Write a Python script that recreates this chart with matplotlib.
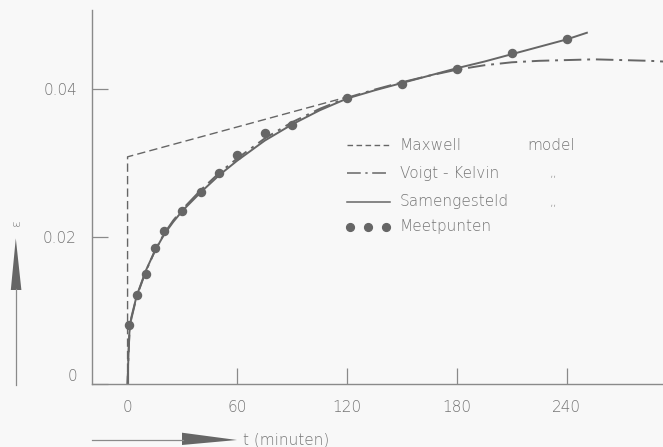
import matplotlib
matplotlib.use("Agg")
import matplotlib.pyplot as plt
from matplotlib.lines import Line2D
from matplotlib.patches import Polygon

# --- data -------------------------------------------------------------
# measured creep strain (Meetpunten)
t_meet = [1, 5, 10, 15, 20, 30, 40, 50, 60, 75, 90, 120, 150, 180, 210, 240]
eps_meet = [0.0080, 0.0121, 0.0149, 0.0185, 0.0208, 0.0235, 0.0261, 0.0286,
            0.0311, 0.0340, 0.0351, 0.0388, 0.0407, 0.0427, 0.0449, 0.0467]

# Maxwell model: instantaneous jump, then linear flow
t_maxwell = [0, 0, 120]
eps_maxwell = [0.0, 0.0308, 0.0389]

# Voigt-Kelvin model
t_kelvin = [0, 0.5, 1, 2, 5, 10, 15, 20, 25, 30, 40, 50, 60, 75, 90, 105,
            120, 135, 150, 165, 180, 195, 210, 225, 240, 255, 270, 285, 293]
eps_kelvin = [0.0, 0.0040, 0.0068, 0.0088, 0.0119, 0.0153, 0.0181, 0.0204,
              0.0222, 0.0237, 0.0263, 0.0286, 0.0306, 0.0333, 0.0355, 0.0373,
              0.0388, 0.0399, 0.0409, 0.0418, 0.0426, 0.0432, 0.0436, 0.0438,
              0.0439, 0.0440, 0.0439, 0.0438, 0.0437]

# combined model (Samengesteld)
t_comb = [0, 0.5, 1, 2, 5, 10, 15, 20, 25, 30, 40, 50, 60, 75, 90, 105,
          120, 135, 150, 165, 180, 195, 210, 225, 240, 251]
eps_comb = [0.0, 0.0040, 0.0070, 0.0090, 0.0120, 0.0154, 0.0181, 0.0203,
            0.0220, 0.0235, 0.0260, 0.0283, 0.0303, 0.0330, 0.0352, 0.0371,
            0.0387, 0.0398, 0.0408, 0.0418, 0.0428, 0.0437, 0.0447, 0.0457,
            0.0467, 0.0476]

x_ticks = [0, 60, 120, 180, 240]
x_ticklabels = ["0", "60", "120", "180", "240"]
y_ticks = [0, 0.02, 0.04]
y_ticklabels = ["0", "0.02", "0.04"]

legend_labels = ["Maxwell", "Voigt - Kelvin", "Samengesteld", "Meetpunten"]
legend_notes = ["model", ",,", ",,", ""]

# --- style ------------------------------------------------------------
BG = "#f8f8f8"
INK = "#666666"
AXC = "#8a8a8a"
TXT = "#757575"
FONT = ["DejaVu Sans"]

W, H = 663, 447
fig = plt.figure(figsize=(W / 100, H / 100), dpi=100, facecolor=BG)


def fx(px):
    return px / W


def fy(py):
    return 1 - py / H


left, bottom = 91.7, 384.3
ax = fig.add_axes([fx(left), fy(bottom), 1 - fx(left), fy(10) - fy(bottom)])
ax.set_facecolor(BG)
ax.set_xlim(-19.6, 292.6)
ax.set_ylim(0, 0.05068)

for side in ("top", "right"):
    ax.spines[side].set_visible(False)
for side in ("left", "bottom"):
    ax.spines[side].set_color(AXC)
    ax.spines[side].set_linewidth(1.0)

ax.set_xticks(x_ticks, x_ticklabels)
ax.set_yticks(y_ticks, y_ticklabels)
ax.tick_params(axis="both", direction="in", length=11.5, width=0.9,
               color=AXC, labelcolor=TXT, labelsize=11)
ax.tick_params(axis="x", pad=11.5)
ax.tick_params(axis="y", pad=10.6)
for lab in ax.get_xticklabels() + ax.get_yticklabels():
    lab.set_family(FONT)
    lab.set_fontweight("light")
ax.get_yticklabels()[0].set_verticalalignment("bottom")

# curves
ax.plot(t_maxwell, eps_maxwell, color=INK, lw=1.0, dashes=(6, 3),
        solid_capstyle="butt")
ax.plot(t_kelvin, eps_kelvin, color=INK, lw=1.4, dashes=(9, 3, 1.5, 3))
ax.plot(t_comb, eps_comb, color=INK, lw=1.4)
ax.plot(t_meet, eps_meet, "o", color=INK, ms=5.8, mec=INK)

# legend
rows_y = [145, 173.3, 201.7, 226.7]
x0, x1 = 346.7, 390
styles = [dict(dashes=(4, 2.5), lw=1.0),
          dict(dashes=(9, 3, 1.5, 3), lw=1.1),
          dict(lw=1.1)]
for ry, st in zip(rows_y[:3], styles):
    fig.add_artist(Line2D([fx(x0), fx(x1)], [fy(ry), fy(ry)], color=INK,
                          transform=fig.transFigure, **st))
fig.add_artist(Line2D([fx(350), fx(368), fx(386)], [fy(rows_y[3])] * 3,
                      ls="none", marker="o", ms=5.6, color=INK,
                      transform=fig.transFigure))
for ry, lab, note in zip(rows_y, legend_labels, legend_notes):
    fig.text(fx(400), fy(ry), lab, family=FONT, fontweight="light",
             fontsize=11, color=TXT, va="center", ha="left")
    if note:
        nx = 527 if note == "model" else 550
        fig.text(fx(nx), fy(ry), note, family=FONT, fontweight="light",
                 fontsize=11 if note == "model" else 9, color=TXT,
                 va="center", ha="left")

# axis arrows
fig.add_artist(Line2D([fx(92), fx(183)], [fy(440), fy(440)], color=AXC,
                      lw=0.9, transform=fig.transFigure))
fig.add_artist(Polygon([(fx(182), fy(432.7)), (fx(182), fy(445)),
                        (fx(237), fy(440))], closed=True, color=INK,
                       transform=fig.transFigure, lw=0))
fig.text(fx(243), fy(440), "t (minuten)", family=FONT, fontweight="light",
         fontsize=11, color=TXT, va="center", ha="left")

fig.add_artist(Line2D([fx(15.5), fx(15.5)], [fy(385), fy(289)], color=AXC,
                      lw=0.9, transform=fig.transFigure))
fig.add_artist(Polygon([(fx(10.8), fy(290)), (fx(21.4), fy(290)),
                        (fx(15.8), fy(238.3))], closed=True, color=INK,
                       transform=fig.transFigure, lw=0))
fig.text(fx(15.5), fy(223), "ε", family=FONT, fontweight="light",
         fontsize=9, color=TXT, va="center", ha="center", rotation=90)

fig.savefig("out.png", dpi=100, facecolor=BG)
